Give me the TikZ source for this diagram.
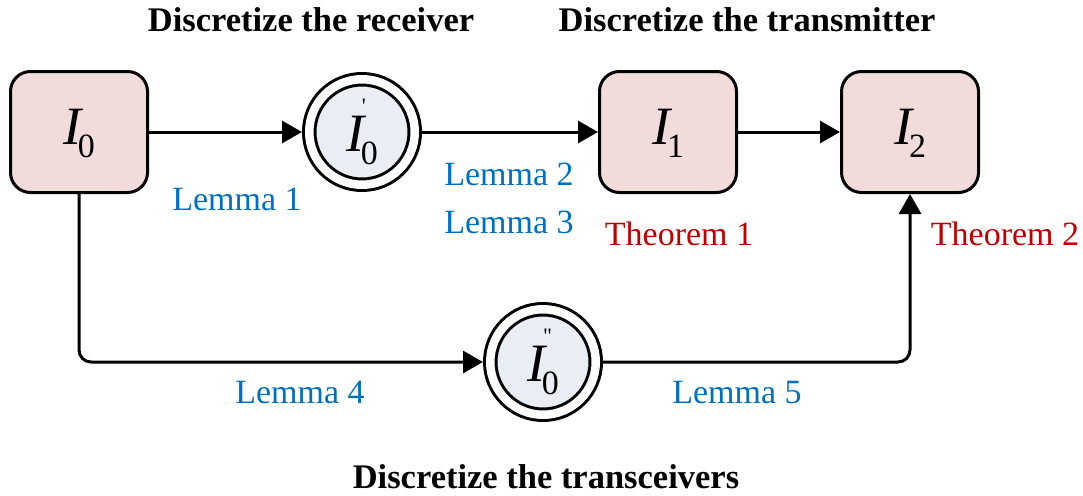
\documentclass[tikz,border=0pt]{standalone}
\usepackage{fontspec}
\setmainfont{Liberation Serif}
\newfontfamily\primefont[Ligatures=TeXOff]{Liberation Serif}
\usetikzlibrary{positioning}
\usetikzlibrary{arrows.meta}
\definecolor{boxpink}{HTML}{F2DCDB}
\definecolor{ringblue}{HTML}{E9EDF4}
\definecolor{lemmablue}{HTML}{0070C0}
\definecolor{thmred}{HTML}{C00000}
\tikzstyle{statenode} = [draw, rectangle, rounded corners=20pt, fill=boxpink, line width=3pt, minimum width=137pt, minimum height=121pt, inner sep=0pt]
\tikzstyle{ringnode} = [draw, circle, double=white, double distance=8.5pt, fill=ringblue, line width=3pt, minimum size=105.5pt, inner sep=0pt, outer sep=7.25pt]
\tikzstyle{flow} = [line width=3pt, -{Triangle[length=20pt, width=22pt]}]
\tikzstyle{lemtext} = [lemmablue, anchor=base, font=\fontsize{34}{40}\selectfont]
\tikzstyle{thmtext} = [thmred, anchor=base, font=\fontsize{34}{40}\selectfont]
\tikzstyle{title} = [anchor=base, font=\fontsize{34.5}{40}\selectfont\bfseries]
\newcommand{\ivar}[2]{{\fontsize{54}{54}\selectfont\itshape I}\kern-3pt\rlap{\kern1pt\raisebox{38pt}{\primefont\fontsize{22}{22}\selectfont #2}}\raisebox{-13pt}{\fontsize{34}{34}\selectfont #1}}

\begin{document}
\begin{tikzpicture}[x=1pt, y=-1pt]
  \useasboundingbox (0,0) rectangle (1083,495);
  \node[statenode] (I0) at (79,132) {\ivar{0}{}};
  \node[ringnode, right=153pt of I0] (I0p) {\ivar{0}{'}};
  \node[statenode, right=176pt of I0p] (I1) {\ivar{1}{}};
  \node[statenode, right=102pt of I1] (I2) {\ivar{2}{}};
  \node[ringnode] (I0pp) at (543,362) {\ivar{0}{"}};

  \node[title] (t_rx) at (311,32) {Discretize the receiver};
  \node[title] (t_tx) at (747,32) {Discretize the transmitter};
  \node[title] (t_trx) at (546,488) {Discretize the transceivers};

  \node[lemtext] (L1) at (237,210) {Lemma 1};
  \node[lemtext] (L2) at (509,185) {Lemma 2};
  \node[lemtext] (L3) at (509,233) {Lemma 3};
  \node[thmtext] (T1) at (679,245) {Theorem 1};
  \node[thmtext] (T2) at (1005,245) {Theorem 2};
  \node[lemtext] (L4) at (300,403) {Lemma 4};
  \node[lemtext] (L5) at (737,403) {Lemma 5};

  \draw[flow] (I0) -- (I0p);
  \draw[flow] (I0p) -- (I1);
  \draw[flow] (I1) -- (I2);
  \draw[flow, rounded corners=12pt] (I0.south) |- (I0pp.west);
  \draw[flow, rounded corners=12pt] (I0pp.east) -| (I2.south);
\end{tikzpicture}
\end{document}
